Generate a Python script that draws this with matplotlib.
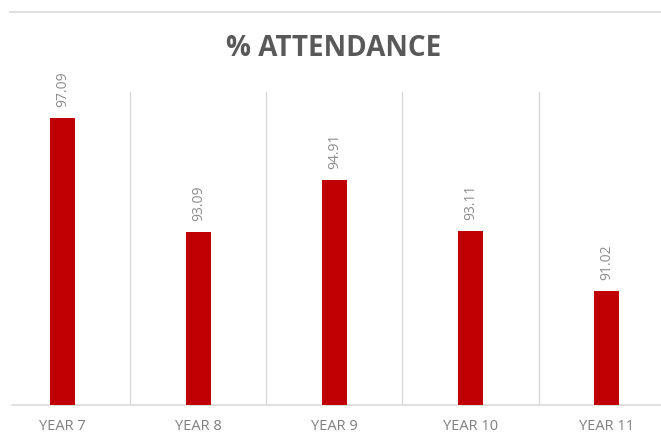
import numpy as np
import matplotlib.pyplot as plt
from matplotlib.lines import Line2D

years = ['YEAR 7', 'YEAR 8', 'YEAR 9', 'YEAR 10', 'YEAR 11']
attendance = [97.09, 93.09, 94.91, 93.11, 91.02]

fig = plt.figure(figsize=(6.61, 4.36), dpi=100)
ax = fig.add_axes([12 / 661, 31 / 436, 649 / 661, 313 / 436])

x = np.arange(len(years))
ax.bar(x, attendance, width=0.185, color='#c00000', zorder=3)

for xi, v in zip(x, attendance):
    ax.annotate(f'{v:.2f}', (xi, v), xytext=(0, 8), textcoords='offset points',
                rotation=90, ha='center', va='bottom', fontsize=10,
                color='#8c8c8c', family='Open Sans')

# category separators
for s in x[:-1] + 0.5:
    ax.axvline(s, color='#d9d9d9', linewidth=1, zorder=1)

ax.set_ylim(87, 98)
ax.set_xlim(-0.37, 4.40)
ax.set_yticks([])
ax.set_xticks(x)
ax.set_xticklabels(years, fontsize=10.5, color='#7f7f7f', family='Open Sans')
ax.tick_params(axis='x', length=0, pad=10)
for side in ['top', 'right', 'left']:
    ax.spines[side].set_visible(False)
ax.spines['bottom'].set_color('#d9d9d9')
ax.spines['bottom'].set_linewidth(1.2)

fig.text(0.504, 1 - 48 / 436, '% ATTENDANCE', ha='center', va='center',
         fontsize=20, fontweight='bold', color='#595959', family='Open Sans')
fig.add_artist(Line2D([10 / 661, 1], [1 - 12 / 436] * 2, color='#d9d9d9', linewidth=1.2))

fig.savefig('out.png', dpi=100)
